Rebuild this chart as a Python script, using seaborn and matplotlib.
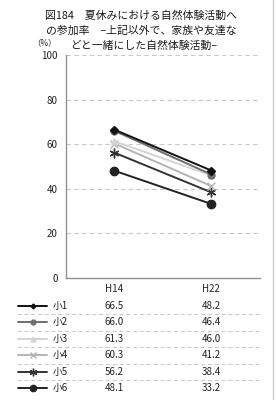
import matplotlib
matplotlib.use("Agg")
import matplotlib.pyplot as plt
from matplotlib.lines import Line2D
import matplotlib.transforms as mtransforms
import seaborn as sns
import pandas as pd

sns.set_theme(style="white")
plt.rcParams['font.family'] = ['Noto Sans CJK JP', 'DejaVu Sans']

years = ["H14", "H22"]
groups = ["小1", "小2", "小3", "小4", "小5", "小6"]
h14 = [66.5, 66.0, 61.3, 60.3, 56.2, 48.1]
h22 = [48.2, 46.4, 46.0, 41.2, 38.4, 33.2]
yticks = [0, 20, 40, 60, 80, 100]

colors = ["#111111", "#6e6e6e", "#d4d4d4", "#b4b4b4", "#333333", "#222222"]
markers = ["D", "o", "^", "x", (6, 2, 0), "o"]
msizes = [4, 5, 5, 6, 7, 6]

rows = []
for g, a, b in zip(groups, h14, h22):
    rows.append({"group": g, "year": years[0], "value": a})
    rows.append({"group": g, "year": years[1], "value": b})
df = pd.DataFrame(rows)

fig = plt.figure(figsize=(2.77, 4.00), dpi=100)
ax = fig.add_axes([0.238, 0.305, 0.700, 0.5575])

for i, g in enumerate(groups):
    sub = df[df["group"] == g]
    sns.lineplot(data=sub, x="year", y="value", ax=ax, color=colors[i],
                 marker=markers[i], markersize=msizes[i], linewidth=1.4,
                 markeredgecolor=colors[i], markeredgewidth=1.0,
                 legend=False, zorder=3 + (6 - i))

ax.set_xlim(-0.5, 1.5)
ax.set_ylim(0, 100)
ax.set_yticks(yticks)
ax.set_yticklabels([str(t) for t in yticks], fontsize=7, color="#222222")
ax.set_xticks([])
ax.set_xlabel("")
ax.set_ylabel("")
ax.tick_params(axis="y", length=0, pad=6)
for t in yticks[1:]:
    ax.axhline(t, color="#c8c8c8", linestyle=(0, (4, 3)), linewidth=0.8, zorder=1)
for s in ["top", "right"]:
    ax.spines[s].set_visible(False)
for s in ["left", "bottom"]:
    ax.spines[s].set_color("#909090")
    ax.spines[s].set_linewidth(1.0)

# Title
fig.text(0.51, 0.962, "図184　夏休みにおける自然体験活動へ", ha="center", va="center", fontsize=7.8, color="#1a1a1a")
fig.text(0.51, 0.923, "の参加率　–上記以外で、家族や友達な", ha="center", va="center", fontsize=7.8, color="#1a1a1a")
fig.text(0.52, 0.887, "どと一緒にした自然体験活動–", ha="center", va="center", fontsize=7.8, color="#1a1a1a")
fig.text(0.160, 0.892, "（%）", ha="center", va="center", fontsize=6, color="#222222")

# Data table below
blend = mtransforms.blended_transform_factory(ax.transData, fig.transFigure)
ax.text(0, 0.277, years[0], transform=blend, ha="center", va="center", fontsize=7, color="#222222")
ax.text(1, 0.277, years[1], transform=blend, ha="center", va="center", fontsize=7, color="#222222")

row_y = [0.2355, 0.1945, 0.153, 0.112, 0.0705, 0.030]
for i, g in enumerate(groups):
    y = row_y[i]
    fig.add_artist(Line2D([0.065, 0.1175, 0.17], [y, y, y], color=colors[i], linewidth=1.4,
                          marker=markers[i], markersize=msizes[i] - 1.5,
                          markeredgecolor=colors[i], markevery=[1],
                          transform=fig.transFigure))
    ax.text(0.19, y, g, transform=fig.transFigure, ha="left", va="center", fontsize=7, color="#222222")
    ax.text(0, y, f"{h14[i]:.1f}", transform=blend, ha="center", va="center", fontsize=7, color="#222222")
    ax.text(1, y, f"{h22[i]:.1f}", transform=blend, ha="center", va="center", fontsize=7, color="#222222")
    if i < len(groups) - 1:
        ys = (row_y[i] + row_y[i + 1]) / 2
        fig.add_artist(Line2D([0.06, 0.94], [ys, ys], color="#c8c8c8", linewidth=0.7,
                              linestyle=(0, (4, 3)), transform=fig.transFigure))

# Figure right border
fig.add_artist(Line2D([0.985, 0.985], [0, 1], color="#cccccc", linewidth=1.0, transform=fig.transFigure))

fig.savefig("out.png", dpi=100)
